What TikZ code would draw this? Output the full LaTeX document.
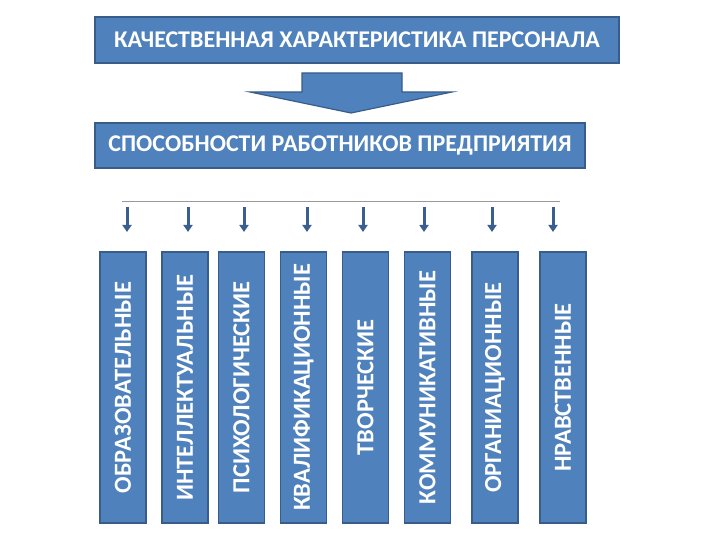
\documentclass[tikz,border=0pt]{standalone}
\usepackage{fontspec}
\setmainfont{Carlito}
\usetikzlibrary{arrows.meta}
\definecolor{boxfill}{HTML}{4F81BD}
\definecolor{boxline}{HTML}{385D8A}
\definecolor{arrowcol}{HTML}{3A5F8E}
\begin{document}
\begin{tikzpicture}[x=1pt,y=-1pt,
  titlebox/.style={draw=boxline, line width=1.5pt, fill=boxfill, text=white, font=\bfseries\fontsize{24}{27}\selectfont, inner sep=0pt},
  barbox/.style={draw=boxline, line width=1.5pt, fill=boxfill, text=white, font=\bfseries\fontsize{24.5}{27}\selectfont, rotate=90, inner sep=0pt, minimum width=271pt, minimum height=46pt},
  smallarrow/.style={draw=arrowcol, line width=3pt, -{Triangle[width=9pt,length=7pt]}},
  guide/.style={draw=gray!80, line width=1pt}]
\useasboundingbox (0,0) rectangle (720,540);
\node[titlebox, minimum width=524pt, minimum height=46pt] (top) at (357,40) {КАЧЕСТВЕННАЯ ХАРАКТЕРИСТИКА ПЕРСОНАЛА};
\node[titlebox, minimum width=490pt, minimum height=45pt] (sub) at (340,145.5) {СПОСОБНОСТИ РАБОТНИКОВ ПРЕДПРИЯТИЯ};
\draw[draw=boxline, line width=1.2pt, fill=boxfill] (302,73) -- (402,73) -- (402,92) -- (452,92) -- (351,113) -- (250,92) -- (302,92) -- cycle;
\coordinate (l1) at (122,202);
\coordinate (l2) at (560,202);
\draw[guide] (l1) -- (l2);
\node[barbox] (b1) at (123,387.5) {ОБРАЗОВАТЕЛЬНЫЕ};
\node[barbox] (b2) at (185,387.5) {ИНТЕЛЛЕКТУАЛЬНЫЕ};
\node[barbox] (b3) at (241.5,387.5) {ПСИХОЛОГИЧЕСКИЕ};
\node[barbox] (b4) at (303.5,387.5) {КВАЛИФИКАЦИОННЫЕ};
\node[barbox] (b5) at (365.5,387.5) {ТВОРЧЕСКИЕ};
\node[barbox] (b6) at (427.5,387.5) {КОММУНИКАТИВНЫЕ};
\node[barbox] (b7) at (495,387.5) {ОРГАНИАЦИОННЫЕ};
\node[barbox] (b8) at (563,387.5) {НРАВСТВЕННЫЕ};
\foreach \i/\x in {1/127,2/188,3/244,4/307,5/363,6/424,7/492,8/553}{
  \coordinate (s\i) at (\x,207);
  \coordinate (e\i) at (\x,232);
  \draw[smallarrow] (s\i) -- (e\i);
}
\end{tikzpicture}
\end{document}
